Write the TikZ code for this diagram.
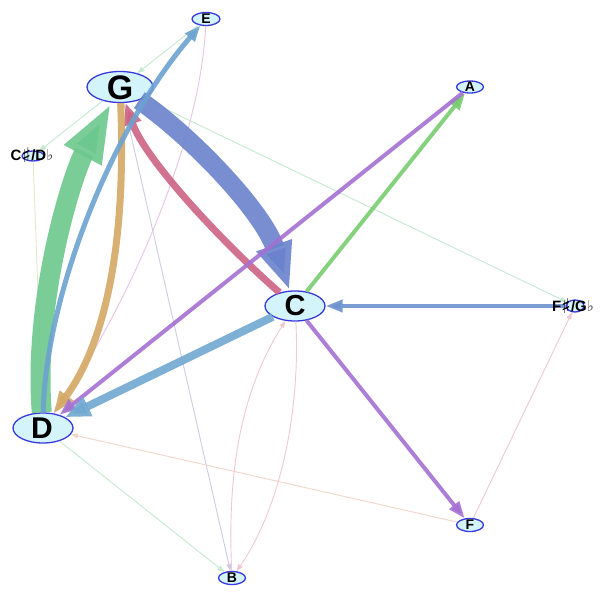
\documentclass[tikz,border=0pt]{standalone}
\usepackage{fontspec}
\setmainfont{Liberation Sans}
\newfontfamily\symfont{DejaVu Sans}
\usetikzlibrary{arrows.meta,shapes.geometric}
\definecolor{ndfill}{HTML}{D4F4FC}
\definecolor{ndborder}{HTML}{3A3ADC}
\definecolor{cBigBlue}{HTML}{6A82CC}
\definecolor{cPinkRed}{HTML}{CC6484}
\definecolor{cBigGreen}{HTML}{6CC88C}
\definecolor{cTan}{HTML}{D4A864}
\definecolor{cBlueDE}{HTML}{6CA2D0}
\definecolor{cGreenCA}{HTML}{78CC70}
\definecolor{cPurple}{HTML}{A470D2}
\definecolor{cBlueFC}{HTML}{6C92CE}
\definecolor{cBlueCD}{HTML}{70A8D2}
\definecolor{cLG}{HTML}{C4EAD0}
\definecolor{cLY}{HTML}{E2EAC8}
\definecolor{cLav}{HTML}{D2CAE6}
\definecolor{cPkE}{HTML}{EAC4E2}
\definecolor{cPk}{HTML}{F0C8D2}
\definecolor{cPeach}{HTML}{F2D6CA}
\newcommand{\mysharp}{\raisebox{-0.12em}{\scalebox{1.35}{\symfont\bfseries ♯}}}
\newcommand{\myflat}{{\symfont\mdseries\color{black!70}♭}}
\tikzset{
  nd/.style={ellipse, draw=ndborder, fill=ndfill, line width=1.3pt, inner sep=0pt},
  lbl/.style={text=black, inner sep=0pt},
  tn/.style={line width=0.9pt, -{Triangle[length=7pt,width=5pt]}},
  md/.style={line width=4pt, opacity=0.9, -{Triangle[length=17pt,width=12pt]}}
}
\begin{document}
\begin{tikzpicture}[x=1pt,y=-1pt]
\fill[white] (0,0) rectangle (600,597);
\useasboundingbox (0,0) rectangle (600,597);
% nodes (ellipses)
\node[nd, minimum width=66pt, minimum height=31pt] (G) at (120,87) {};
\node[nd, minimum width=28pt, minimum height=13pt] (E) at (206,19) {};
\node[nd, minimum width=27pt, minimum height=12pt] (A) at (470,87) {};
\node[nd, minimum width=22pt, minimum height=10pt] (Cs) at (33,156) {};
\node[nd, minimum width=60pt, minimum height=30pt] (C) at (295,306) {};
\node[nd, minimum width=18pt, minimum height=12pt] (Fs) at (575,306) {};
\node[nd, minimum width=60pt, minimum height=30pt] (D) at (43,428) {};
\node[nd, minimum width=27pt, minimum height=13pt] (F) at (470,525) {};
\node[nd, minimum width=27pt, minimum height=13pt] (B) at (232,578) {};
% thin edges
\draw[tn, cLG] (E) -- (G);
\draw[tn, cLG] (G) -- (Cs);
\draw[tn, cLY] (Cs) -- (D);
\draw[tn, cLG] (G) -- (Fs);
\draw[tn, cLG] (D) -- (B);
\draw[tn, cLav] (G) -- (B);
\draw[tn, cPkE] (E) .. controls (200,150) and (120,320) .. (D);
\draw[tn, cPeach] (F) -- (D);
\draw[tn, cPk] (F) -- (Fs);
\draw[tn, cPk] (B) .. controls (228,490) and (235,400) .. (C);
\draw[tn, cPk] (C) .. controls (300,400) and (285,500) .. (B);
% thick edges
\draw[cBigGreen, opacity=0.9, line width=20pt, -{Triangle[length=60pt,width=38pt]}] (D) .. controls (33,300) and (72,175) .. (G);
\draw[cBigBlue, opacity=0.9, line width=19pt, -{Triangle[length=48pt,width=34pt]}] (G) .. controls (190,135) and (262,210) .. (C);
\draw[cPinkRed, opacity=0.9, line width=7pt, -{Triangle[length=22pt,width=17pt]}] (C) .. controls (225,245) and (145,160) .. (G);
\draw[cTan, opacity=0.9, line width=7pt, -{Triangle[length=22pt,width=16pt]}] (G) .. controls (127,260) and (100,350) .. (D);
\draw[cBlueDE, opacity=0.9, line width=5pt, -{Triangle[length=16pt,width=12pt]}] (D) .. controls (45,300) and (110,130) .. (E);
% medium edges
\draw[md, cGreenCA] (C) -- (A);
\draw[md, cPurple] (A) -- (D);
\draw[md, cBlueFC] (Fs) -- (C);
\draw[md, cPurple] (C) -- (F);
\draw[cBlueCD, opacity=0.9, line width=8pt, -{Triangle[length=25pt,width=20pt]}] (C) -- (D);
% labels
\node[lbl, font=\bfseries\fontsize{34}{34}\selectfont] (Gl) at (120,88) {G};
\node[lbl, font=\bfseries\fontsize{14}{14}\selectfont] (El) at (206,19) {E};
\node[lbl, font=\bfseries\fontsize{14}{14}\selectfont] (Al) at (470,87) {A};
\node[lbl, font=\bfseries\fontsize{15}{15}\selectfont] (Csl) at (32,155) {C\mysharp/D\myflat};
\node[lbl, font=\bfseries\fontsize{29}{29}\selectfont] (Cl) at (295,306) {C};
\node[lbl, font=\bfseries\fontsize{15}{15}\selectfont] (Fsl) at (573,306) {F\mysharp/G\myflat};
\node[lbl, font=\bfseries\fontsize{30}{30}\selectfont] (Dl) at (42,428) {D};
\node[lbl, font=\bfseries\fontsize{14}{14}\selectfont] (Fl) at (470,525) {F};
\node[lbl, font=\bfseries\fontsize{14}{14}\selectfont] (Bl) at (232,578) {B};
\end{tikzpicture}
\end{document}
